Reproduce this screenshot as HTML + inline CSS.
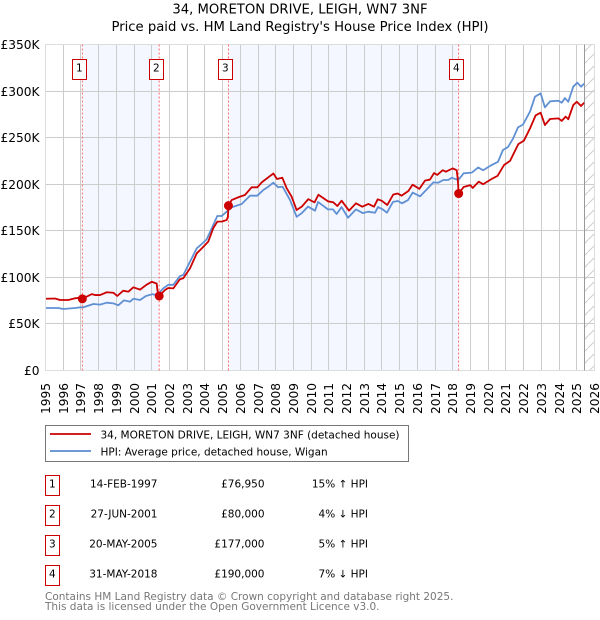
<!DOCTYPE html>
<html>
<head>
<meta charset="utf-8">
<title>34, MORETON DRIVE, LEIGH, WN7 3NF</title>
<style>
html,body{margin:0;padding:0;background:#fff;}
body{width:600px;height:620px;overflow:hidden;position:relative;}
svg{position:absolute;left:0;top:0;}
text{font-family:"DejaVu Sans","Liberation Sans",sans-serif;fill:#000;}
</style>
</head>
<body>
<svg id="chart" width="600" height="620" viewBox="0 0 600 620" xmlns="http://www.w3.org/2000/svg">
<defs>
<pattern id="hatch" patternUnits="userSpaceOnUse" width="12" height="12">
<path d="M-3 15 L15 -3" stroke="#ccc" stroke-width="1" fill="none"/>
</pattern>
</defs>
<text x="300" y="13.5" font-size="13.2" text-anchor="middle">34, MORETON DRIVE, LEIGH, WN7 3NF</text>
<text x="300" y="31" font-size="13.2" text-anchor="middle">Price paid vs. HM Land Registry's House Price Index (HPI)</text>
<g id="plot"></g>

<g>
<rect x="45.5" y="425.5" width="363" height="36" fill="#fff" stroke="#777" stroke-width="1"/>
<line x1="50" x2="91" y1="434" y2="434" stroke="#c00" stroke-width="1.8"/>
<text x="100.5" y="438.5" font-size="10.5">34, MORETON DRIVE, LEIGH, WN7 3NF (detached house)</text>
<line x1="50" x2="91" y1="451" y2="451" stroke="#5b8bd0" stroke-width="1.8"/>
<text x="100.5" y="455.5" font-size="10.5">HPI: Average price, detached house, Wigan</text>
</g>

<g>
<g>
<rect x="45.5" y="475.5" width="14" height="20" fill="#fff" stroke="#c00"/>
<text x="52.3" y="487.5" font-size="10.5" text-anchor="middle">1</text>
<text x="157.5" y="487.5" font-size="10.5" text-anchor="end">14-FEB-1997</text>
<text x="264.5" y="487.5" font-size="10.5" text-anchor="end">£76,950</text>
<text x="368" y="487.5" font-size="10.5" text-anchor="end">15% ↑ HPI</text>
</g>
<g>
<rect x="45.5" y="505.5" width="14" height="20" fill="#fff" stroke="#c00"/>
<text x="52.3" y="517.5" font-size="10.5" text-anchor="middle">2</text>
<text x="157.5" y="517.5" font-size="10.5" text-anchor="end">27-JUN-2001</text>
<text x="264.5" y="517.5" font-size="10.5" text-anchor="end">£80,000</text>
<text x="368" y="517.5" font-size="10.5" text-anchor="end">4% ↓ HPI</text>
</g>
<g>
<rect x="45.5" y="535.5" width="14" height="20" fill="#fff" stroke="#c00"/>
<text x="52.3" y="547.5" font-size="10.5" text-anchor="middle">3</text>
<text x="157.5" y="547.5" font-size="10.5" text-anchor="end">20-MAY-2005</text>
<text x="264.5" y="547.5" font-size="10.5" text-anchor="end">£177,000</text>
<text x="368" y="547.5" font-size="10.5" text-anchor="end">5% ↑ HPI</text>
</g>
<g>
<rect x="45.5" y="565.5" width="14" height="20" fill="#fff" stroke="#c00"/>
<text x="52.3" y="577.5" font-size="10.5" text-anchor="middle">4</text>
<text x="157.5" y="577.5" font-size="10.5" text-anchor="end">31-MAY-2018</text>
<text x="264.5" y="577.5" font-size="10.5" text-anchor="end">£190,000</text>
<text x="368" y="577.5" font-size="10.5" text-anchor="end">7% ↓ HPI</text>
</g>
</g>

<text x="45" y="600" font-size="10.5" style="fill:#777">Contains HM Land Registry data © Crown copyright and database right 2025.</text>
<text x="45" y="610" font-size="10.5" style="fill:#777">This data is licensed under the Open Government Licence v3.0.</text>
</svg>

<script>
var yearTicks = [1995,1996,1997,1998,1999,2000,2001,2002,2003,2004,2005,2006,2007,2008,2009,2010,2011,2012,2013,2014,2015,2016,2017,2018,2019,2020,2021,2022,2023,2024,2025,2026];
var valueTicks = [0,50,100,150,200,250,300,350];
var valueTickLabels = ["£0","£50K","£100K","£150K","£200K","£250K","£300K","£350K"];

var saleLabels = ["1","2","3","4"];
var saleDates = [1997.08,2001.42,2005.33,2018.33];
var salePrices = [76.95,80,177,190];
var dataEndDate = 2025.46;

var hpiDates = [1995.03,1995.72,1996.0,1996.67,1996.95,1997.13,1997.70,1998.08,1998.46,1998.83,1999.11,1999.43,1999.77,1999.96,2000.34,2000.67,2001.05,2001.28,2001.65,2001.93,2002.22,2002.59,2002.78,2003.16,2003.54,2003.82,2004.10,2004.39,2004.70,2004.95,2005.23,2005.51,2006.08,2006.55,2006.96,2007.30,2007.58,2007.86,2008.14,2008.39,2008.81,2009.18,2009.47,2009.82,2010.22,2010.39,2010.95,2011.23,2011.44,2011.72,2012.08,2012.53,2012.91,2013.21,2013.61,2013.77,2014.04,2014.28,2014.62,2014.90,2015.13,2015.47,2015.73,2016.15,2016.53,2016.90,2017.18,2017.46,2017.74,2017.94,2018.22,2018.33,2018.61,2019.07,2019.43,2019.71,2020.19,2020.55,2020.83,2021.12,2021.40,2021.68,2021.96,2022.36,2022.64,2022.96,2023.20,2023.49,2023.96,2024.15,2024.33,2024.52,2024.80,2025.03,2025.24,2025.41];
var hpiValues = [67.1,67.1,66,67.1,67.8,67.8,71.4,70.7,72.8,72.1,70,75.3,73.9,77,75.7,80,82,80.7,88.2,92,92,101.4,102.5,116.8,131.2,135.8,140.8,152.7,165.9,165.9,170.5,175.2,178.8,187.7,187.7,193.8,197.3,201.6,196.7,197.3,183,165,169,176,171.6,181,173,173,168,175.5,164,173,169,170.5,169.4,175.5,173,169.4,181,182,179.5,183,191,187,194.5,202,201.6,204.5,204.5,207,205,205,211.7,212.4,218,215,220.6,224,236.7,240,249,261,264,278,294,297.5,282.5,289,289.6,287.5,292.5,288.5,304.7,309,304.7,308];

var priceDates = [1995.03,1995.54,1995.82,1996.29,1996.67,1996.95,1997.08,1997.61,1997.80,1998.08,1998.46,1998.83,1999.05,1999.39,1999.68,1999.96,2000.34,2000.70,2001.0,2001.28,2001.32,2001.42,2001.75,2001.93,2002.22,2002.59,2002.78,2003.16,2003.54,2003.82,2004.19,2004.47,2004.70,2004.97,2005.23,2005.30,2005.33,2005.51,2005.89,2006.26,2006.64,2006.96,2007.21,2007.58,2007.87,2008.07,2008.37,2008.62,2008.90,2009.18,2009.47,2009.84,2010.19,2010.41,2010.97,2011.25,2011.48,2011.72,2012.14,2012.53,2012.89,2013.23,2013.55,2013.76,2013.98,2014.30,2014.64,2014.89,2015.11,2015.49,2015.73,2016.11,2016.43,2016.71,2016.94,2017.12,2017.43,2017.61,2017.99,2018.22,2018.28,2018.33,2018.61,2018.99,2019.12,2019.46,2019.71,2020.19,2020.53,2020.89,2021.23,2021.70,2022.02,2022.36,2022.68,2022.96,2023.20,2023.49,2023.96,2024.15,2024.37,2024.52,2024.80,2025.0,2025.24,2025.41];
var priceValues = [77,77.3,75.7,75.7,77.5,78.2,76.95,82,81,81,84,83.5,80,85.7,84.6,89.3,86.8,92,95.3,93.3,86,80,86.4,88.6,88.2,98,99,109.7,125.8,131,138.3,152.7,159.8,160,161.6,165,177,183,186,188.4,196.7,196.7,202,207.4,211.5,205.6,207,195.6,186.6,172.3,175.9,184,180.5,188.7,181.5,180.6,176.6,182.3,171.6,179.5,175.9,178.8,175.9,183.8,182.3,177.7,189,190,187.7,192.7,199.5,195,203.8,205,212,210,215,213.4,217,215,205,190,197,199,196,202.7,200,205.6,209,220.6,225,243,247,260,274,276.8,263.5,270,270.7,268,272.6,269.7,285,288.5,284,287.5];

var NS = 'http://www.w3.org/2000/svg';
var plot = document.getElementById('plot');
var LEFT = 45.5, RIGHT = 594.5, TOP = 44.5, BOTTOM = 370.5;
var X0 = 1995, X1 = 2026, Y0 = 0, Y1 = 350;

function xScale(v){ return LEFT + (v - X0) / (X1 - X0) * (RIGHT - LEFT); }
function yScale(v){ return BOTTOM - (v - Y0) / (Y1 - Y0) * (BOTTOM - TOP); }
function snap(p){ return Math.floor(p) + 0.5; }
function make(tag, attrs, parent){
  var el = document.createElementNS(NS, tag);
  for (var k in attrs) el.setAttribute(k, attrs[k]);
  (parent || plot).appendChild(el);
  return el;
}
function pathFrom(dates, values){
  var d = '';
  for (var i = 0; i < dates.length; i++){
    d += (i ? 'L' : 'M') + xScale(dates[i]).toFixed(2) + ' ' + yScale(values[i]).toFixed(2);
  }
  return d;
}

// shaded ownership bands
for (var b = 0; b + 1 < saleDates.length; b += 2){
  var band = make('rect', {x: xScale(saleDates[b]), y: TOP, width: xScale(saleDates[b+1]) - xScale(saleDates[b]), height: BOTTOM - TOP, fill: '#f4f7ff'});
  
  
}

// future hatch
var hatch = make('rect', {x: xScale(dataEndDate), y: TOP, width: RIGHT - xScale(dataEndDate), height: BOTTOM - TOP, fill: 'url(#hatch)'});



// gridlines and tick labels
yearTicks.forEach(function(yr){
  var gx = snap(xScale(yr));
  var vline = make('line', {x1: gx, x2: gx, y1: TOP, y2: BOTTOM, stroke: '#ccc', 'stroke-width': 1});
  
  
  var lbl = make('text', {x: 0, y: 0, 'font-size': 12.2, 'text-anchor': 'end', transform: 'translate(' + (gx + 4.5) + ',383) rotate(-90)'});
  lbl.textContent = yr;
  
  
});
valueTicks.forEach(function(v, i){
  var gy = snap(yScale(v));
  var hline = make('line', {x1: LEFT, x2: RIGHT, y1: gy, y2: gy, stroke: '#ccc', 'stroke-width': 1});
  
  
  var lbl = make('text', {x: 39.5, y: gy + 4.5, 'font-size': 12.2, 'text-anchor': 'end'});
  lbl.textContent = valueTickLabels[i];
  
  
});

// plot frame and data-end line
var frame = make('rect', {x: LEFT, y: TOP, width: RIGHT - LEFT, height: BOTTOM - TOP, fill: 'none', stroke: '#ddd', 'stroke-width': 1});


var endLine = make('line', {x1: snap(xScale(dataEndDate)), x2: snap(xScale(dataEndDate)), y1: TOP, y2: BOTTOM, stroke: '#999', 'stroke-width': 1});



// sale date markers (dotted)
saleDates.forEach(function(d){
  var sx = xScale(d);
  var dot = make('line', {x1: sx, x2: sx, y1: TOP, y2: BOTTOM, stroke: '#ff6666', 'stroke-width': 1, 'stroke-dasharray': '2 2'});
  
  
});

// series
var hpiLine = make('path', {d: pathFrom(hpiDates, hpiValues), fill: 'none', stroke: '#6090d4', 'stroke-width': 1.8, 'stroke-linejoin': 'round'});


var priceLine = make('path', {d: pathFrom(priceDates, priceValues), fill: 'none', stroke: '#c00', 'stroke-width': 1.8, 'stroke-linejoin': 'round'});



// sale points and numbered flags
saleDates.forEach(function(d, i){
  var pt = make('circle', {cx: xScale(d), cy: yScale(salePrices[i]), r: 4.5, fill: '#c00'});
  
  
  var cx = Math.round(xScale(d) - 3) + 0.5;
  var flag = make('rect', {x: cx - 7, y: 59.5, width: 14, height: 20, fill: '#fff', stroke: '#c00', 'stroke-width': 1});
  
  
  var num = make('text', {x: cx - 0.2, y: 71.5, 'font-size': 10.5, 'text-anchor': 'middle'});
  num.textContent = saleLabels[i];
  
  
});
</script>
</body>
</html>
